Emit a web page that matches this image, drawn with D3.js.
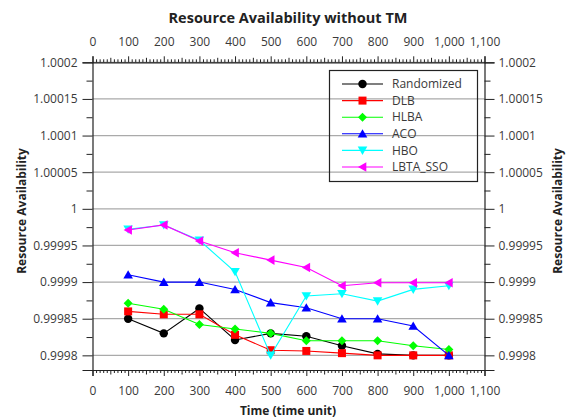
<!DOCTYPE html>
<html>
<head>
<meta charset="utf-8">
<script src="https://cdn.jsdelivr.net/npm/d3@7"></script>
<style>
  body { margin: 0; background: #fff; }
  text { font-family: "Open Sans", "Noto Sans", sans-serif; }
</style>
</head>
<body>
<svg id="chart" width="567" height="419"></svg>
<script>
// Time points (time unit)
const times = [100, 200, 300, 400, 500, 600, 700, 800, 900, 1000];

// Resource availability per algorithm
const randomized = [0.99985, 0.99983, 0.999864, 0.999821, 0.99983, 0.999826, 0.999813, 0.999802, 0.9998, 0.9998];
const dlb        = [0.99986, 0.999856, 0.999856, 0.999828, 0.999807, 0.999806, 0.999803, 0.9998, 0.9998, 0.9998];
const hlba       = [0.999871, 0.999863, 0.999842, 0.999836, 0.99983, 0.99982, 0.99982, 0.99982, 0.999813, 0.999808];
const aco        = [0.99991, 0.9999, 0.9999, 0.99989, 0.999872, 0.999865, 0.99985, 0.99985, 0.99984, 0.9998];
const hbo        = [0.999972, 0.999978, 0.999957, 0.999914, 0.9998, 0.999881, 0.999884, 0.999874, 0.99989, 0.999895];
const lbtaSso    = [0.999971, 0.999978, 0.999956, 0.99994, 0.99993, 0.99992, 0.999895, 0.999899, 0.999899, 0.999899];

const seriesNames  = ["Randomized", "DLB", "HLBA", "ACO", "HBO", "LBTA_SSO"];
const seriesValues = [randomized, dlb, hlba, aco, hbo, lbtaSso];
const seriesColors = ["#000000", "#ff0000", "#00ff00", "#0000ff", "#00ffff", "#ff00ff"];
const seriesMarkers = ["circle", "square", "diamond", "triangleUp", "triangleDown", "triangleLeft"];

// Tick values and labels
const xTickValues = [0, 100, 200, 300, 400, 500, 600, 700, 800, 900, 1000, 1100];
const xTickLabels = ["0", "100", "200", "300", "400", "500", "600", "700", "800", "900", "1,000", "1,100"];
const yTickValues = [0.9998, 0.99985, 0.9999, 0.99995, 1, 1.00005, 1.0001, 1.00015, 1.0002];
const yTickLabels = ["0.9998", "0.99985", "0.9999", "0.99995", "1", "1.00005", "1.0001", "1.00015", "1.0002"];

const svg = d3.select("#chart");
const plotLeft = 92.5, plotRight = 484.5, plotTop = 62.3, plotBottom = 370;

const x = d3.scaleLinear().domain([0, 1100]).range([plotLeft, plotRight]);
const y = d3.scaleLinear().domain([0.99978, 1.0002]).range([plotBottom, plotTop]);

// Horizontal gridlines
svg.append("g").selectAll("line").data(yTickValues).join("line")
  .attr("x1", plotLeft).attr("x2", plotRight)
  .attr("y1", d => y(d)).attr("y2", d => y(d))
  .attr("stroke", "#aaaaaa").attr("stroke-width", 1.2);

const tickColor = "#222";
const labelColor = "#3a3a3a";

function styleAxis(g) {
  g.selectAll(".domain").attr("stroke", tickColor).attr("stroke-width", 1.2);
  g.selectAll(".tick line").attr("stroke", tickColor).attr("stroke-width", 1);
  g.selectAll(".tick text").attr("fill", labelColor).style("font-size", "12px")
    .style("font-family", '"Open Sans", "Noto Sans", sans-serif');
}

// Minor tick positions
const xMinor = d3.range(0, 1101, 10).filter(v => v % 50 !== 0);
const xMid = d3.range(50, 1100, 100);
const yMinor = d3.range(0, 8).map(i => 0.999825 + i * 0.00005);

// Bottom axis
const gB = svg.append("g").attr("transform", `translate(0,${plotBottom})`);
gB.call(d3.axisBottom(x).tickValues(xTickValues).tickFormat((d, i) => xTickLabels[i]).tickSize(6).tickPadding(10));
gB.append("g").call(d3.axisBottom(x).tickValues(xMinor).tickFormat("").tickSize(3)).select(".domain").remove();
gB.append("g").call(d3.axisBottom(x).tickValues(xMid).tickFormat("").tickSize(4.5)).select(".domain").remove();
styleAxis(gB);

// Top axis
const gT = svg.append("g").attr("transform", `translate(0,${plotTop})`);
gT.call(d3.axisTop(x).tickValues(xTickValues).tickFormat((d, i) => xTickLabels[i]).tickSize(6).tickPadding(10));
gT.append("g").call(d3.axisTop(x).tickValues(xMinor).tickFormat("").tickSize(3)).select(".domain").remove();
gT.append("g").call(d3.axisTop(x).tickValues(xMid).tickFormat("").tickSize(4.5)).select(".domain").remove();
styleAxis(gT);

// Left axis
const gL = svg.append("g").attr("transform", `translate(${plotLeft},0)`);
gL.call(d3.axisLeft(y).tickValues(yTickValues).tickFormat((d, i) => yTickLabels[i]).tickSize(10).tickPadding(5));
gL.append("g").call(d3.axisLeft(y).tickValues(yMinor).tickFormat("").tickSize(6)).select(".domain").remove();
styleAxis(gL);

// Right axis
const gR = svg.append("g").attr("transform", `translate(${plotRight},0)`);
gR.call(d3.axisRight(y).tickValues(yTickValues).tickFormat((d, i) => yTickLabels[i]).tickSize(10).tickPadding(4));
gR.append("g").call(d3.axisRight(y).tickValues(yMinor).tickFormat("").tickSize(6)).select(".domain").remove();
styleAxis(gR);

// Marker shapes
function markerPath(kind) {
  switch (kind) {
    case "circle": return d3.symbol(d3.symbolCircle, 56)();
    case "square": return "M-4,-4H4V4H-4Z";
    case "diamond": return "M0,-4.5L4.5,0L0,4.5L-4.5,0Z";
    case "triangleUp": return "M0,-4.5L4.8,3.8H-4.8Z";
    case "triangleDown": return "M0,4.5L4.8,-3.8H-4.8Z";
    case "triangleLeft": return "M-4.5,0L3.8,-4.8V4.8Z";
  }
}

const line = d3.line().x((d, i) => x(times[i])).y(d => y(d));

seriesValues.forEach((vals, s) => {
  const g = svg.append("g");
  g.append("path").datum(vals).attr("d", line)
    .attr("fill", "none").attr("stroke", seriesColors[s]).attr("stroke-width", 1.1);
  g.selectAll("path.mk").data(vals).join("path").attr("class", "mk")
    .attr("transform", (d, i) => `translate(${x(times[i])},${y(d)})`)
    .attr("d", markerPath(seriesMarkers[s]))
    .attr("fill", seriesColors[s]);
});

// Legend
const lg = svg.append("g");
lg.append("rect").attr("x", 329.5).attr("y", 70.5).attr("width", 148).attr("height", 111)
  .attr("fill", "none").attr("stroke", "#222").attr("stroke-width", 1.2);
seriesNames.forEach((name, i) => {
  const cy = 84 + i * 16.6;
  lg.append("line").attr("x1", 342).attr("x2", 383).attr("y1", cy).attr("y2", cy)
    .attr("stroke", seriesColors[i]).attr("stroke-width", 1.1);
  lg.append("path").attr("transform", `translate(362.5,${cy})`)
    .attr("d", markerPath(seriesMarkers[i])).attr("fill", seriesColors[i]);
  lg.append("text").attr("x", 392).attr("y", cy).attr("dy", "0.35em")
    .attr("fill", labelColor).style("font-size", "12px").text(name);
});

// Titles
svg.append("text").attr("x", 288).attr("y", 18).attr("dy", "0.35em")
  .attr("text-anchor", "middle").attr("fill", "#222")
  .style("font-size", "14.5px").style("font-weight", "bold")
  .text("Resource Availability without TM");

svg.append("text").attr("x", 288).attr("y", 410.5).attr("dy", "0.35em")
  .attr("text-anchor", "middle").attr("fill", "#222")
  .style("font-size", "12px").style("font-weight", "bold")
  .text("Time (time unit)");

svg.append("text").attr("transform", "translate(21.5,211) rotate(-90)").attr("dy", "0.35em")
  .attr("text-anchor", "middle").attr("fill", "#222")
  .style("font-size", "12px").style("font-weight", "bold")
  .text("Resource Availability");

svg.append("text").attr("transform", "translate(558,211) rotate(-90)").attr("dy", "0.35em")
  .attr("text-anchor", "middle").attr("fill", "#222")
  .style("font-size", "12px").style("font-weight", "bold")
  .text("Resource Availability");
</script>
</body>
</html>
